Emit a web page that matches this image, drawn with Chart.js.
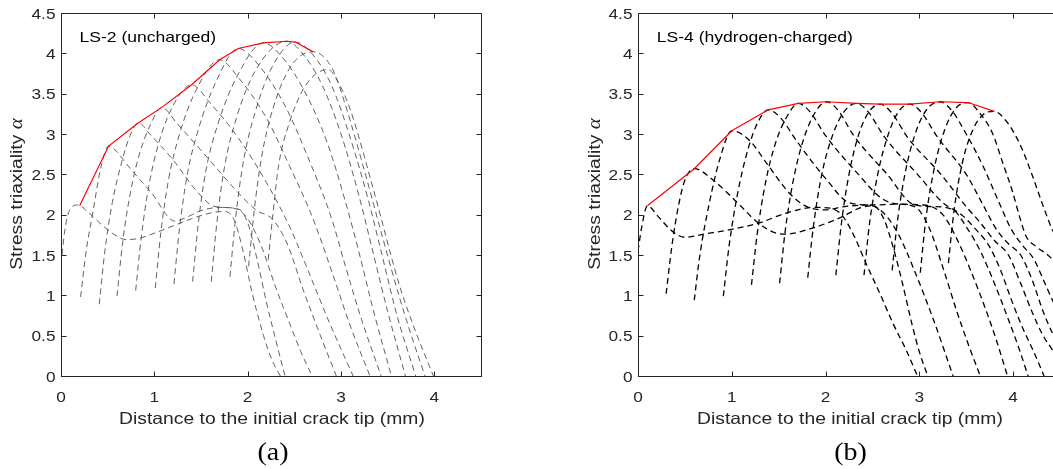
<!DOCTYPE html>
<html>
<head>
<meta charset="utf-8">
<script src="https://cdn.jsdelivr.net/npm/chart.js@4.4.0/dist/chart.umd.min.js"></script>
<style>
  html, body { margin: 0; padding: 0; background: #fff; overflow: hidden; width: 1053px; height: 469px; }
  #wa { position: absolute; left: 0; top: 0; width: 540px; height: 469px; }
  #wb { position: absolute; left: 560px; top: 0; width: 540px; height: 469px; }
</style>
</head>
<body>
<div id="wa"><canvas id="ca" width="540" height="469"></canvas></div>
<div id="wb"><canvas id="cb" width="540" height="469"></canvas></div>
<script>
// tick values / labels
const xTicks = [0, 1, 2, 3, 4];
const xTickLabels = ['0', '1', '2', '3', '4'];
const yTicks = [0, 0.5, 1, 1.5, 2, 2.5, 3, 3.5, 4, 4.5];
const yTickLabels = ['0', '0.5', '1', '1.5', '2', '2.5', '3', '3.5', '4', '4.5'];

// LS-2 (uncharged): triaxiality profiles [distance mm, alpha]
const ls2_c0 = [[0,1.38],[0.04,1.8],[0.09,2.05],[0.18,2.12],[0.3,2.02],[0.45,1.86],[0.55,1.77],[0.7,1.69],[0.85,1.71],[1.0,1.77],[1.2,1.86],[1.4,1.95],[1.6,2.02],[1.76,2.04],[1.86,1.92],[1.95,1.55],[2.05,1.02],[2.17,0.5],[2.26,0.2],[2.35,0]];
const ls2_c1 = [[0.21,0.98],[0.27,1.55],[0.34,2.02],[0.43,2.6],[0.51,2.85],[0.6,2.78],[0.7,2.63],[0.97,2.27],[1.22,1.92],[1.35,1.97],[1.5,2.05],[1.7,2.09],[1.9,2.07],[2.0,1.9],[2.1,1.45],[2.2,0.92],[2.3,0.45],[2.4,0]];
const ls2_c2 = [[0.41,0.89],[0.47,1.55],[0.55,2.15],[0.65,2.65],[0.74,2.98],[0.83,3.14],[0.95,3.0],[1.2,2.68],[1.47,2.27],[1.65,2.1],[1.85,2.08],[2.0,1.95],[2.15,1.6],[2.3,1.1],[2.45,0.65],[2.57,0.3],[2.69,0]];
const ls2_c3 = [[0.6,0.99],[0.66,1.65],[0.74,2.25],[0.84,2.75],[0.96,3.12],[1.08,3.33],[1.25,3.12],[1.59,2.68],[1.9,2.27],[2.1,2.05],[2.26,1.95],[2.42,1.65],[2.6,1.05],[2.78,0.5],[2.95,0]];
const ls2_c4 = [[0.8,1.06],[0.86,1.72],[0.94,2.35],[1.05,2.9],[1.2,3.35],[1.4,3.61],[1.6,3.38],[1.9,2.95],[2.2,2.4],[2.45,1.85],[2.65,1.3],[2.88,0.65],[3.13,0]];
const ls2_c5 = [[1.01,1.09],[1.07,1.78],[1.15,2.42],[1.27,3.0],[1.45,3.55],[1.7,3.92],[1.9,3.7],[2.2,3.2],[2.45,2.6],[2.7,1.95],[2.9,1.3],[3.1,0.62],[3.31,0]];
const ls2_c6 = [[1.21,1.14],[1.27,1.83],[1.35,2.48],[1.47,3.05],[1.65,3.62],[1.9,4.06],[2.1,3.88],[2.4,3.35],[2.65,2.7],[2.9,1.95],[3.05,1.35],[3.22,0.7],[3.43,0]];
const ls2_c7 = [[1.41,1.17],[1.47,1.88],[1.55,2.53],[1.68,3.12],[1.88,3.7],[2.17,4.13],[2.35,3.98],[2.6,3.55],[2.85,2.9],[3.05,2.15],[3.2,1.5],[3.35,0.8],[3.54,0]];
const ls2_c8 = [[1.61,1.17],[1.67,1.9],[1.75,2.58],[1.88,3.2],[2.08,3.78],[2.42,4.15],[2.6,3.98],[2.8,3.6],[3.0,3.0],[3.2,2.2],[3.35,1.5],[3.5,0.8],[3.69,0]];
const ls2_c9 = [[1.81,1.23],[1.87,1.95],[1.95,2.63],[2.08,3.27],[2.27,3.85],[2.51,4.14],[2.7,3.98],[2.9,3.6],[3.1,2.95],[3.3,2.15],[3.45,1.45],[3.6,0.75],[3.8,0]];
const ls2_c10 = [[2.01,1.36],[2.07,2.05],[2.15,2.72],[2.28,3.35],[2.47,3.85],[2.7,4.02],[2.8,3.97],[2.92,3.78],[3.05,3.35],[3.25,2.55],[3.45,1.7],[3.62,1.0],[3.76,0.48],[3.9,0]];
const ls2_c11 = [[2.22,1.44],[2.27,2.0],[2.33,2.6],[2.45,3.15],[2.62,3.6],[2.86,3.8],[2.98,3.62],[3.1,3.3],[3.35,2.3],[3.63,1.11],[3.8,0.55],[3.99,0]];
const ls2_env = [[0.2,2.11],[0.51,2.85],[0.83,3.14],[1.08,3.33],[1.4,3.61],[1.7,3.92],[1.9,4.06],[2.17,4.13],[2.42,4.15],[2.51,4.14],[2.7,4.02]];

// LS-4 (hydrogen-charged)
const ls4_c0 = [[0,1.55],[0.04,1.85],[0.1,2.11],[0.22,1.97],[0.37,1.79],[0.5,1.72],[0.71,1.76],[1.01,1.82],[1.3,1.9],[1.58,2.02],[1.88,2.09],[2.05,2.08],[2.17,2.0],[2.29,1.77],[2.43,1.4],[2.58,1.02],[2.72,0.65],[2.86,0.32],[2.98,0]];
const ls4_c1 = [[0.3,1.02],[0.36,1.6],[0.43,2.1],[0.5,2.43],[0.6,2.57],[0.8,2.43],[1.05,2.16],[1.28,1.9],[1.48,1.77],[1.58,1.76],[1.85,1.83],[2.17,1.97],[2.36,2.08],[2.51,2.11],[2.62,1.95],[2.72,1.6],[2.82,1.15],[2.92,0.65],[3.0,0.3],[3.09,0]];
const ls4_c2 = [[0.6,0.94],[0.66,1.5],[0.76,2.14],[0.87,2.68],[1.0,3.04],[1.19,2.92],[1.37,2.64],[1.62,2.26],[1.8,2.1],[2.0,2.06],[2.2,2.1],[2.45,2.12],[2.62,2.02],[2.78,1.75],[2.95,1.3],[3.15,0.7],[3.36,0]];
const ls4_c3 = [[0.91,0.99],[0.97,1.6],[1.06,2.25],[1.17,2.8],[1.28,3.15],[1.39,3.3],[1.52,3.2],[1.7,2.9],[2.0,2.45],[2.25,2.15],[2.5,2.12],[2.75,2.13],[2.95,2.1],[3.1,1.85],[3.25,1.35],[3.4,0.8],[3.52,0.4],[3.65,0]];
const ls4_c4 = [[1.21,1.13],[1.27,1.75],[1.36,2.4],[1.47,2.9],[1.59,3.22],[1.71,3.38],[1.83,3.28],[2.0,2.98],[2.35,2.5],[2.6,2.2],[2.8,2.13],[3.05,2.12],[3.25,2.0],[3.4,1.7],[3.55,1.3],[3.7,0.85],[3.82,0.45],[3.94,0]];
const ls4_c5 = [[1.51,1.15],[1.57,1.8],[1.66,2.45],[1.77,2.95],[1.89,3.27],[2.01,3.4],[2.13,3.3],[2.3,2.98],[2.65,2.51],[2.95,2.12],[3.15,2.1],[3.36,2.06],[3.5,1.85],[3.65,1.55],[3.8,1.15],[3.95,0.7],[4.06,0.35],[4.16,0]];
const ls4_c6 = [[1.81,1.22],[1.87,1.85],[1.96,2.5],[2.08,3.0],[2.2,3.28],[2.33,3.38],[2.45,3.28],[2.63,2.96],[2.98,2.5],[3.25,2.15],[3.45,2.0],[3.6,1.82],[3.74,1.62],[3.86,1.33],[3.98,0.95],[4.1,0.6],[4.22,0.3],[4.33,0]];
const ls4_c7 = [[2.11,1.25],[2.17,1.9],[2.25,2.5],[2.35,2.98],[2.46,3.27],[2.58,3.37],[2.7,3.27],[2.88,2.95],[3.23,2.5],[3.5,2.1],[3.65,1.9],[3.8,1.68],[3.95,1.5],[4.08,1.15],[4.2,0.8],[4.32,0.5],[4.42,0.32],[4.5,0.15]];
const ls4_c8 = [[2.41,1.25],[2.47,1.9],[2.56,2.52],[2.67,3.0],[2.78,3.28],[2.9,3.37],[3.02,3.27],[3.2,2.95],[3.5,2.5],[3.68,2.12],[3.82,1.82],[3.95,1.64],[4.08,1.5],[4.2,1.2],[4.32,0.8],[4.42,0.53],[4.5,0.38]];
const ls4_c9 = [[2.71,1.31],[2.77,1.95],[2.86,2.58],[2.97,3.05],[3.09,3.32],[3.22,3.4],[3.34,3.3],[3.5,3.0],[3.68,2.6],[3.85,2.15],[3.98,1.82],[4.1,1.62],[4.22,1.45],[4.32,1.2],[4.42,0.94],[4.5,0.78]];
const ls4_c10 = [[3.01,1.28],[3.07,1.95],[3.16,2.58],[3.27,3.05],[3.39,3.32],[3.52,3.39],[3.65,3.25],[3.78,3.01],[3.89,2.64],[3.99,2.3],[4.07,1.97],[4.14,1.73],[4.25,1.6],[4.39,1.48],[4.5,1.32]];
const ls4_c11 = [[3.31,1.4],[3.37,2.05],[3.46,2.65],[3.57,3.05],[3.68,3.24],[3.8,3.28],[3.92,3.17],[4.07,2.88],[4.21,2.47],[4.31,2.14],[4.42,1.81],[4.5,1.66]];
const ls4_env = [[0.1,2.11],[0.6,2.57],[1.0,3.04],[1.39,3.3],[1.71,3.38],[2.01,3.4],[2.33,3.38],[2.58,3.37],[2.9,3.37],[3.22,3.4],[3.52,3.39],[3.8,3.28]];

const ls2Curves = [ls2_c0, ls2_c1, ls2_c2, ls2_c3, ls2_c4, ls2_c5, ls2_c6, ls2_c7, ls2_c8, ls2_c9, ls2_c10, ls2_c11];
const ls4Curves = [ls4_c0, ls4_c1, ls4_c2, ls4_c3, ls4_c4, ls4_c5, ls4_c6, ls4_c7, ls4_c8, ls4_c9, ls4_c10, ls4_c11];

const SANS = '"Liberation Sans", Arial, sans-serif';
const SERIF = '"Liberation Serif", "Times New Roman", serif';
const INK = '#262626';

function toXY(arr) {
    return arr.map(p => ({ x: p[0], y: p[1] }));
}

// text squeezed/stretched horizontally like the source figure
function txt(ctx, s, x, y, font, align, sx) {
    ctx.save();
    ctx.translate(x, y);
    ctx.scale(sx, 1);
    ctx.font = font;
    ctx.textAlign = align;
    ctx.textBaseline = 'alphabetic';
    ctx.fillText(s, 0, 0);
    ctx.restore();
}

function decor(cfg) {
    return {
        id: 'decor',
        afterDraw(chart) {
            const ctx = chart.ctx;
            const a = chart.chartArea;
            const xs = chart.scales.x, ys = chart.scales.y;
            ctx.save();

            // box + inward ticks
            ctx.strokeStyle = INK;
            ctx.lineWidth = 1;
            const L = Math.round(a.left) + 0.5, R = Math.round(a.right) + 0.5;
            const T = Math.round(a.top) + 0.5, B = Math.round(a.bottom) + 0.5;
            ctx.strokeRect(L, T, R - L, B - T);
            ctx.beginPath();
            xTicks.forEach(v => {
                const p = Math.round(xs.getPixelForValue(v)) + 0.5;
                ctx.moveTo(p, B); ctx.lineTo(p, B - 5);
                ctx.moveTo(p, T); ctx.lineTo(p, T + 5);
            });
            yTicks.forEach(v => {
                const p = Math.round(ys.getPixelForValue(v)) + 0.5;
                ctx.moveTo(L, p); ctx.lineTo(L + 5, p);
                ctx.moveTo(R, p); ctx.lineTo(R - 5, p);
            });
            ctx.stroke();

            // tick labels
            ctx.fillStyle = INK;
            xTicks.forEach((v, i) => {
                txt(ctx, xTickLabels[i], xs.getPixelForValue(v), B + 25, '15px ' + SANS, 'center', 1.15);
            });
            yTicks.forEach((v, i) => {
                txt(ctx, yTickLabels[i], L - 6, ys.getPixelForValue(v) + 5.5, '15px ' + SANS, 'right', 1.15);
            });

            // x title
            txt(ctx, 'Distance to the initial crack tip (mm)', cfg.xTitleX, 424, '16.5px ' + SANS, 'center', 1.17);

            // y title (rotated, with italic alpha)
            ctx.save();
            ctx.translate(cfg.yTitleX, 194);
            ctx.rotate(-Math.PI / 2);
            ctx.scale(1.17, 1);
            ctx.font = '16.5px ' + SANS;
            const w1 = ctx.measureText('Stress triaxiality ').width;
            ctx.font = 'italic 18px ' + SERIF;
            const w2 = ctx.measureText('\u03b1').width;
            const x0 = -(w1 + w2) / 2;
            ctx.textAlign = 'left';
            ctx.textBaseline = 'alphabetic';
            ctx.font = '16.5px ' + SANS;
            ctx.fillText('Stress triaxiality ', x0, 0);
            ctx.font = 'italic 18px ' + SERIF;
            ctx.fillText('\u03b1', x0 + w1, 0);
            ctx.restore();

            // annotation inside the axes
            ctx.fillStyle = '#000';
            txt(ctx, cfg.note, cfg.noteX, 41.5, '15px ' + SANS, 'left', 1.17);

            // panel label
            txt(ctx, cfg.label, cfg.labelX, 460, '25px ' + SERIF, 'center', 1.12);

            ctx.restore();
        }
    };
}

function makeChart(id, curves, env, style, pad, cfg) {
    const datasets = [{
        data: toXY(env),
        borderColor: '#ff0000',
        borderWidth: 1.2,
        tension: 0,
        order: 0
    }];
    curves.forEach(c => {
        datasets.push({
            data: toXY(c),
            borderColor: style.color,
            borderWidth: style.width,
            borderDash: style.dash,
            cubicInterpolationMode: 'monotone',
            order: 1
        });
    });
    return new Chart(document.getElementById(id), {
        type: 'scatter',
        data: { datasets: datasets },
        options: {
            responsive: false,
            animation: false,
            devicePixelRatio: 1,
            showLine: true,
            layout: { padding: pad },
            elements: { point: { radius: 0, hoverRadius: 0 } },
            plugins: { legend: { display: false }, tooltip: { enabled: false } },
            events: [],
            scales: {
                x: { type: 'linear', min: 0, max: 4.5, display: false },
                y: { type: 'linear', min: 0, max: 4.5, display: false }
            }
        },
        plugins: [decor(cfg)]
    });
}

makeChart('ca', ls2Curves, ls2_env,
    { color: '#505050', width: 0.9, dash: [6, 4] },
    { left: 61, top: 13, right: 59, bottom: 93 },
    { xTitleX: 272, yTitleX: 22, note: 'LS-2 (uncharged)', noteX: 79.5, label: '(a)', labelX: 273 });

makeChart('cb', ls4Curves, ls4_env,
    { color: '#000000', width: 1.3, dash: [6, 4] },
    { left: 78, top: 13, right: 40, bottom: 93 },
    { xTitleX: 290, yTitleX: 40, note: 'LS-4 (hydrogen-charged)', noteX: 96.7, label: '(b)', labelX: 290.5 });
</script>
</body>
</html>
